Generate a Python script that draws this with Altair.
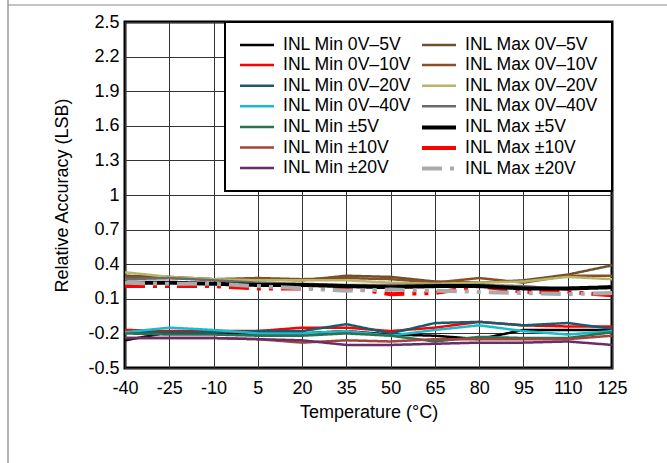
import altair as alt
import pandas as pd

# Temperature sweep (°C)
temps = [-40, -25, -10, 5, 20, 35, 50, 65, 80, 95, 110, 125]

# Relative accuracy (LSB) per output range
inl_min_0_5 = [-0.26, -0.19, -0.20, -0.20, -0.20, -0.18, -0.21, -0.22, -0.25, -0.17, -0.17, -0.17]
inl_min_0_10 = [-0.17, -0.18, -0.18, -0.18, -0.15, -0.15, -0.18, -0.15, -0.10, -0.13, -0.14, -0.14]
inl_min_0_20 = [-0.19, -0.19, -0.19, -0.18, -0.18, -0.12, -0.20, -0.11, -0.10, -0.13, -0.11, -0.16]
inl_min_0_40 = [-0.19, -0.15, -0.17, -0.20, -0.20, -0.18, -0.22, -0.17, -0.13, -0.18, -0.21, -0.18]
inl_min_pm5 = [-0.20, -0.21, -0.21, -0.22, -0.22, -0.20, -0.22, -0.27, -0.23, -0.24, -0.24, -0.19]
inl_min_pm10 = [-0.24, -0.24, -0.24, -0.25, -0.28, -0.26, -0.27, -0.25, -0.25, -0.25, -0.25, -0.22]
inl_min_pm20 = [-0.24, -0.24, -0.24, -0.25, -0.26, -0.30, -0.30, -0.29, -0.28, -0.28, -0.27, -0.30]

inl_max_0_5 = [0.30, 0.29, 0.27, 0.27, 0.26, 0.30, 0.29, 0.25, 0.24, 0.26, 0.31, 0.39]
inl_max_0_10 = [0.28, 0.28, 0.27, 0.28, 0.27, 0.28, 0.27, 0.24, 0.28, 0.24, 0.30, 0.30]
inl_max_0_20 = [0.33, 0.29, 0.27, 0.26, 0.26, 0.26, 0.24, 0.23, 0.24, 0.25, 0.29, 0.27]
inl_max_0_40 = [0.27, 0.28, 0.26, 0.24, 0.23, 0.22, 0.22, 0.22, 0.22, 0.21, 0.18, 0.21]
inl_max_pm5 = [0.24, 0.24, 0.23, 0.22, 0.22, 0.21, 0.20, 0.21, 0.21, 0.19, 0.19, 0.20]
inl_max_pm10 = [0.21, 0.21, 0.21, 0.19, 0.19, 0.20, 0.14, 0.15, 0.21, 0.16, 0.16, 0.13]
inl_max_pm20 = [0.24, 0.23, 0.23, 0.21, 0.19, 0.17, 0.18, 0.17, 0.16, 0.15, 0.14, 0.15]

y_ticks = [-0.5, -0.2, 0.1, 0.4, 0.7, 1, 1.3, 1.6, 1.9, 2.2, 2.5]

DASH = [20, 8, 4, 8, 4, 8]
SOLID = [1, 0]

# name, values, colour, stroke width, dash  (key fills column by column)
series = [
    ("INL Min 0V–5V", inl_min_0_5, "#000000", 2.5, SOLID),
    ("INL Min 0V–10V", inl_min_0_10, "#ff0000", 2.5, SOLID),
    ("INL Min 0V–20V", inl_min_0_20, "#1b5a6e", 2.5, SOLID),
    ("INL Min 0V–40V", inl_min_0_40, "#19bccf", 2.5, SOLID),
    ("INL Min ±5V", inl_min_pm5, "#2e7050", 2.5, SOLID),
    ("INL Min ±10V", inl_min_pm10, "#a0443e", 2.5, SOLID),
    ("INL Min ±20V", inl_min_pm20, "#6a2d68", 2.5, SOLID),
    ("INL Max 0V–5V", inl_max_0_5, "#6e5230", 2.5, SOLID),
    ("INL Max 0V–10V", inl_max_0_10, "#8b4f28", 2.5, SOLID),
    ("INL Max 0V–20V", inl_max_0_20, "#b8b46a", 2.5, SOLID),
    ("INL Max 0V–40V", inl_max_0_40, "#6b6b6b", 2.5, SOLID),
    ("INL Max ±5V", inl_max_pm5, "#000000", 4, SOLID),
    ("INL Max ±10V", inl_max_pm10, "#ff0000", 4, SOLID),
    ("INL Max ±20V", inl_max_pm20, "#aaaaaa", 4, DASH),
]

names = [s[0] for s in series]
colors = [s[2] for s in series]
widths = [s[3] for s in series]
dashes = [s[4] for s in series]

rows = []
for name, vals, *_ in series:
    for t, v in zip(temps, vals):
        rows.append({"temp": t, "value": v, "series": name})
df = pd.DataFrame(rows)

FONT = "Liberation Sans"

x_enc = alt.X(
    "temp:Q",
    scale=alt.Scale(domain=[-40, 125], nice=False, zero=False),
    axis=alt.Axis(values=temps, title="Temperature (°C)", labelExpr="toString(datum.value)",
                  labelPadding=11, titlePadding=6, labelOverlap=False, labelFlush=False),
)
y_enc = alt.Y(
    "value:Q",
    scale=alt.Scale(domain=[-0.5, 2.5], nice=False, zero=False),
    axis=alt.Axis(values=y_ticks, title="Relative Accuracy (LSB)", labelExpr="toString(datum.value)",
                  labelPadding=6, titlePadding=16, labelOverlap=False, labelFlush=False),
)

legend = alt.Legend(title=None, columns=2, orient="top-right", offset=0,
                    rowPadding=1.6, columnPadding=2)

main = alt.Chart(df[df.series != "INL Max ±10V"]).mark_line().encode(
    x=x_enc,
    y=y_enc,
    color=alt.Color("series:N", scale=alt.Scale(domain=names, range=colors), legend=legend),
    strokeWidth=alt.StrokeWidth("series:N", scale=alt.Scale(type="ordinal", domain=names, range=widths),
                                legend=legend),
    strokeDash=alt.StrokeDash("series:N", scale=alt.Scale(domain=names, range=dashes), legend=legend),
)

# ±10V maximum is drawn dashed in the plot, solid in the key
red_max = alt.Chart(df[df.series == "INL Max ±10V"]).mark_line(
    color="#ff0000", strokeWidth=4, strokeDash=DASH
).encode(x=x_enc, y=y_enc)

# page frame lines
frame = pd.DataFrame({"k": [0]})
frame_left = alt.Chart(frame).mark_rule(color="#666666", strokeWidth=1).encode(
    x=alt.value(-117), y=alt.value(-22), y2=alt.value(441)
)
frame_top = alt.Chart(frame).mark_rule(color="#888888", strokeWidth=1).encode(
    x=alt.value(-117), x2=alt.value(542), y=alt.value(-17)
)

chart = (
    alt.layer(red_max, main, frame_left, frame_top)
    .properties(
        width=487,
        height=346,
        padding={"left": 125, "top": 22, "right": 55, "bottom": 95},
        autosize="none",
        background="white",
    )
    .configure_view(stroke="black", strokeWidth=3)
    .configure_axis(
        grid=True, gridColor="#333333", gridWidth=1, domain=False, ticks=False,
        labelFont=FONT, labelFontSize=18, labelColor="black",
        titleFont=FONT, titleFontSize=18, titleFontWeight="normal", titleColor="black",
    )
    .configure_legend(
        labelFont=FONT, labelFontSize=17.6, labelColor="black", labelLimit=300,
        # wide, short line key: 34 px long inside a 16 px entry
        symbolType="M-1,0H3.25", symbolSize=256, labelOffset=25,
        padding=13,
        strokeColor="black", strokeWidth=2, fillColor="white",
    )
)

chart.save("out.html", embed_options={"renderer": "svg", "actions": False})
